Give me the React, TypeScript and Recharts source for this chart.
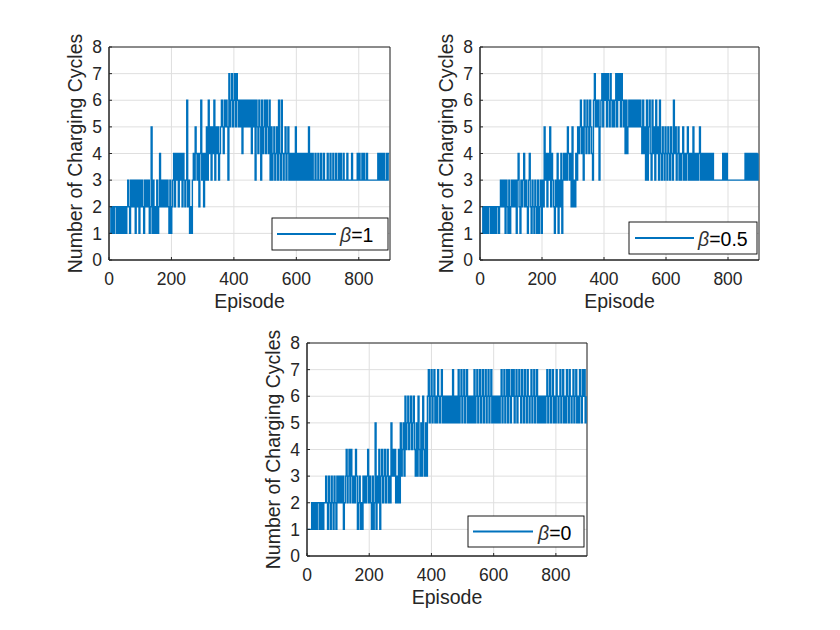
import { LineChart, Line, XAxis, YAxis, CartesianGrid, ReferenceArea } from "recharts";

// sampled every 3 episodes (0, 3, ..., 897), 30 values per row = 90 episodes
const STEP = 3;
const X_TICKS = [0, 200, 400, 600, 800];
const Y_TICKS = [0, 1, 2, 3, 4, 5, 6, 7, 8];

const cyclesBeta1 = [
  1, 1, 2, 1, 2, 1, 2, 2, 1, 2, 1, 2, 1, 2, 1, 2, 1, 2, 1, 2, 3, 2, 1, 3, 2, 3, 2, 3, 1, 3,
  2, 3, 1, 3, 2, 3, 2, 1, 3, 2, 3, 2, 3, 1, 2, 5, 1, 3, 1, 2, 1, 3, 1, 2, 4, 2, 3, 2, 3, 2,
  3, 2, 3, 2, 1, 3, 1, 2, 3, 4, 2, 4, 3, 4, 2, 4, 3, 4, 2, 4, 3, 2, 3, 6, 2, 3, 1, 2, 1, 3,
  4, 3, 5, 4, 3, 4, 2, 4, 6, 3, 4, 2, 4, 3, 5, 3, 6, 4, 5, 3, 5, 4, 6, 3, 5, 4, 5, 3, 4, 5,
  6, 5, 4, 6, 5, 6, 5, 3, 7, 5, 6, 7, 5, 6, 7, 5, 7, 6, 5, 6, 5, 6, 4, 6, 5, 6, 5, 6, 5, 6,
  5, 6, 4, 6, 5, 6, 3, 6, 5, 4, 6, 5, 3, 6, 4, 5, 6, 4, 6, 5, 4, 6, 3, 5, 3, 4, 5, 3, 4, 5,
  3, 6, 4, 3, 6, 4, 3, 4, 5, 3, 4, 5, 3, 4, 3, 4, 3, 4, 3, 5, 3, 4, 3, 4, 3, 4, 3, 4, 3, 4,
  3, 4, 3, 5, 3, 4, 3, 4, 3, 3, 4, 3, 3, 4, 3, 3, 4, 3, 3, 4, 3, 3, 3, 4, 3, 3, 4, 3, 3, 4,
  3, 3, 4, 3, 3, 4, 3, 4, 3, 3, 4, 3, 3, 3, 4, 3, 3, 3, 3, 4, 3, 3, 3, 3, 3, 4, 3, 4, 3, 3,
  4, 3, 4, 3, 3, 4, 3, 3, 3, 3, 3, 3, 3, 3, 3, 3, 3, 4, 3, 4, 3, 4, 3, 4, 3, 3, 4, 3, 4, 4,
];

const cyclesBeta05 = [
  1, 1, 1, 2, 1, 2, 1, 2, 1, 2, 2, 1, 2, 1, 2, 1, 2, 1, 2, 2, 1, 2, 3, 2, 3, 2, 3, 1, 3, 2,
  1, 3, 1, 2, 3, 2, 3, 2, 3, 1, 3, 4, 2, 1, 3, 2, 3, 4, 2, 3, 2, 1, 3, 4, 2, 1, 3, 2, 1, 3,
  2, 1, 3, 1, 2, 3, 1, 3, 2, 5, 3, 4, 2, 4, 3, 5, 2, 4, 3, 2, 1, 3, 2, 4, 1, 3, 2, 4, 1, 3,
  4, 3, 4, 3, 5, 4, 3, 4, 2, 5, 2, 3, 2, 4, 3, 5, 4, 5, 6, 4, 5, 3, 6, 5, 4, 6, 5, 4, 6, 5,
  4, 3, 6, 7, 5, 6, 5, 6, 3, 5, 6, 7, 5, 7, 6, 7, 5, 7, 6, 5, 7, 6, 5, 6, 5, 6, 7, 5, 7, 6,
  7, 5, 7, 6, 5, 6, 4, 6, 4, 5, 6, 5, 6, 5, 6, 5, 6, 5, 6, 5, 6, 5, 6, 5, 4, 6, 4, 5, 3, 6,
  3, 5, 6, 4, 3, 6, 4, 5, 3, 6, 4, 5, 3, 6, 4, 3, 5, 4, 3, 5, 4, 3, 5, 4, 3, 5, 4, 3, 6, 4,
  5, 3, 4, 5, 3, 4, 3, 4, 5, 3, 4, 3, 4, 5, 3, 4, 3, 4, 3, 5, 3, 4, 3, 4, 3, 4, 5, 3, 4, 3,
  4, 3, 4, 3, 4, 3, 4, 3, 4, 3, 4, 3, 3, 3, 3, 3, 3, 3, 3, 3, 3, 4, 3, 4, 3, 4, 3, 3, 3, 3,
  3, 3, 3, 3, 3, 3, 3, 3, 3, 3, 3, 3, 3, 3, 3, 4, 3, 4, 3, 4, 3, 4, 3, 4, 3, 4, 3, 4, 3, 4,
];

const cyclesBeta0 = [
  1, 1, 1, 1, 1, 2, 1, 2, 1, 2, 1, 2, 2, 1, 2, 1, 2, 1, 2, 2, 3, 2, 1, 3, 2, 1, 3, 2, 1, 3,
  2, 1, 3, 2, 3, 2, 3, 2, 3, 1, 2, 3, 4, 2, 3, 4, 2, 4, 3, 2, 3, 2, 4, 3, 1, 2, 3, 1, 2, 1,
  3, 2, 3, 2, 3, 4, 2, 3, 2, 1, 3, 1, 2, 5, 1, 3, 2, 4, 1, 3, 4, 2, 3, 4, 2, 3, 4, 2, 3, 2,
  5, 3, 4, 3, 4, 2, 3, 2, 4, 2, 5, 3, 4, 5, 3, 6, 4, 5, 6, 4, 5, 6, 4, 5, 6, 4, 3, 5, 3, 6,
  4, 3, 5, 3, 6, 4, 3, 5, 3, 6, 7, 5, 6, 7, 5, 6, 7, 5, 6, 5, 7, 6, 5, 6, 7, 5, 6, 5, 6, 5,
  6, 5, 6, 5, 6, 5, 7, 5, 6, 5, 6, 5, 7, 5, 6, 7, 5, 6, 7, 5, 6, 7, 5, 6, 5, 6, 5, 6, 5, 7,
  5, 6, 7, 5, 6, 7, 5, 6, 7, 5, 6, 7, 5, 6, 7, 5, 6, 7, 5, 6, 5, 6, 5, 6, 5, 6, 5, 6, 7, 5,
  6, 7, 5, 6, 7, 5, 7, 6, 5, 7, 6, 7, 5, 6, 7, 5, 6, 7, 6, 5, 7, 6, 5, 7, 6, 5, 7, 6, 5, 6,
  7, 5, 6, 7, 5, 6, 7, 5, 6, 5, 6, 5, 6, 5, 6, 5, 6, 7, 5, 6, 7, 5, 6, 7, 5, 6, 5, 7, 6, 5,
  6, 7, 5, 6, 7, 5, 6, 5, 7, 6, 5, 7, 6, 5, 6, 7, 5, 6, 7, 5, 6, 5, 7, 6, 5, 7, 6, 7, 5, 6,
];

const FONT = "'Liberation Sans', Arial, Helvetica, sans-serif";
const AXIS = "#262626";
const BLUE = "#0072BD";

const toRows = (vals: number[]) => vals.map((v, i) => ({ ep: i * STEP, v }));

const YW = 70; // y axis width
const XH = 40; // x axis height
const MT = 10;
const MR = 10;
const MB = 10;

type PanelProps = { data: { ep: number; v: number }[]; left: number; top: number; w: number; h: number };

const Panel = ({ data, left, top, w, h }: PanelProps) => (
  <div style={{ position: "absolute", left: left - YW, top: top - MT }}>
    <LineChart
      width={YW + w + MR}
      height={MT + h + XH + MB}
      data={data}
      margin={{ top: MT, right: MR, bottom: MB, left: 0 }}
    >
      <CartesianGrid stroke="#dfdfdf" strokeWidth={1} />
      <XAxis
        type="number"
        dataKey="ep"
        domain={[0, 900]}
        ticks={X_TICKS}
        interval={0}
        height={XH}
        allowDataOverflow
        stroke={AXIS}
        tickSize={-3}
        tickMargin={15.5}
        tick={{ fill: AXIS, fontSize: 17.5, fontFamily: FONT }}
      />
      <YAxis
        type="number"
        domain={[0, 8]}
        ticks={Y_TICKS}
        interval={0}
        width={YW}
        allowDataOverflow
        stroke={AXIS}
        tickSize={-3}
        tickMargin={10}
        tick={{ fill: AXIS, fontSize: 17.5, fontFamily: FONT }}
      />
      <Line type="stepAfter" dataKey="v" stroke={BLUE} strokeWidth={1.4} dot={false} isAnimationActive={false} />
      <ReferenceArea x1={0} x2={900} y1={0} y2={8} fill="#fff" fillOpacity={0} stroke={AXIS} strokeWidth={1} />
    </LineChart>
  </div>
);

type LegendBox = { x: number; y: number; w: number; h: number; lx1: number; lx2: number; tx: number; label: string };

const LegendItem = ({ x, y, w, h, lx1, lx2, tx, label }: LegendBox) => {
  const cy = y + h / 2;
  return (
    <g>
      <rect x={x} y={y} width={w} height={h} fill="#fff" stroke="#000" strokeWidth={0.9} />
      <line x1={lx1} x2={lx2} y1={cy} y2={cy} stroke={BLUE} strokeWidth={2} />
      <text x={tx} y={cy + 8} fontSize={19.5} fontFamily={FONT} fill="#000">
        <tspan fontStyle="italic" fill="#333">β</tspan>
        <tspan>={label}</tspan>
      </text>
    </g>
  );
};

const PANELS = [
  { data: toRows(cyclesBeta1), left: 109, top: 47, w: 281, h: 213 },
  { data: toRows(cyclesBeta05), left: 480, top: 47, w: 279, h: 213 },
  { data: toRows(cyclesBeta0), left: 307, top: 343, w: 280, h: 213 },
];

const LEGENDS: LegendBox[] = [
  { x: 272, y: 218, w: 116, h: 32, lx1: 277, lx2: 336, tx: 340, label: "1" },
  { x: 629, y: 222, w: 128, h: 32, lx1: 635, lx2: 694, tx: 698, label: "0.5" },
  { x: 468, y: 516, w: 116, h: 31, lx1: 473, lx2: 533, tx: 538, label: "0" },
];

const labelStyle = { fontSize: 19.5, fontFamily: FONT, fill: AXIS };

export default function App() {
  return (
    <div style={{ position: "fixed", left: 0, top: 0, width: 840, height: 630, background: "#fff" }}>
      {PANELS.map((p, i) => (
        <Panel key={i} {...p} />
      ))}
      <svg width={840} height={630} style={{ position: "absolute", left: 0, top: 0, pointerEvents: "none" }}>
        {PANELS.map((p, i) => (
          <g key={i}>
            <text
              transform={`translate(${p.left - 27},${p.top + p.h / 2}) rotate(-90)`}
              textAnchor="middle"
              {...labelStyle}
            >
              Number of Charging Cycles
            </text>
            <text x={p.left + p.w / 2} y={p.top + p.h + 48} textAnchor="middle" {...labelStyle}>
              Episode
            </text>
          </g>
        ))}
        {LEGENDS.map((l, i) => (
          <LegendItem key={i} {...l} />
        ))}
      </svg>
    </div>
  );
}
